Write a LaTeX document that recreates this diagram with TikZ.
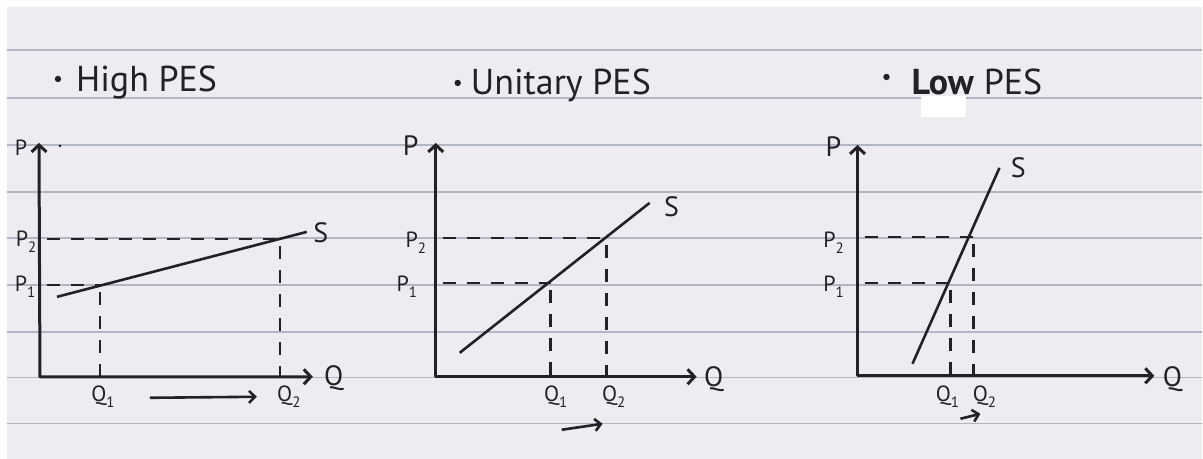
\documentclass[tikz,border=0pt]{standalone}
\usepackage{fontspec}
\setmainfont{PT Sans}
\usetikzlibrary{arrows.meta}
\definecolor{PaperGrey}{RGB}{236,236,241}
\definecolor{RuleGrey}{RGB}{178,181,195}
\definecolor{InkGrey}{RGB}{34,34,38}
\tikzset{
  axes/.style={InkGrey,line width=3pt,line join=round,
    {Straight Barb[length=7pt,width=15pt]}-{Straight Barb[length=7pt,width=15pt]}},
  supply/.style={InkGrey,line width=2.6pt},
  guide/.style={InkGrey,line width=2.6pt,dash pattern=on 13pt off 11pt,dash phase=17pt},
  shiftarrow/.style={InkGrey,line width=2.6pt,-{Straight Barb[length=6pt,width=12pt]}},
  title/.style={anchor=base west,inner sep=0pt,font=\fontsize{36}{40}\selectfont,text=InkGrey},
  axislabel/.style={inner sep=0pt,font=\fontsize{28}{30}\selectfont,text=InkGrey},
  valuelabel/.style={inner sep=0pt,font=\fontsize{22}{24}\selectfont,text=InkGrey},
  ruling/.style={RuleGrey,line width=1.4pt}
}
\newcommand\sublbl[2]{#1\raisebox{-0.3em}{\fontsize{15}{16}\selectfont #2}}

\begin{document}
\begin{tikzpicture}[x=1pt,y=-1pt]
  % paper
  \fill[white] (0,0) rectangle (1203,459);
  \fill[PaperGrey] (7,7) rectangle (1203,459);
  \foreach \y in {50,98,145,192,238,285,332,378,424}
    \draw[ruling] (7,\y) -- (1203,\y);
  \fill[white] (922,96) rectangle (967,117);

  % titles
  \fill[InkGrey] (58,79) circle (3.2pt);
  \node[title] (t1) at (76,92) {High PES};
  \fill[InkGrey] (458,83) circle (3.2pt);
  \node[title] (t2) at (471,95) {Unitary PES};
  \fill[InkGrey] (887,77) circle (3.2pt);
  \node[title] (t3) at (912,95) {\textbf{Low} PES};

  % high PES
  \coordinate (o1) at (40,377);
  \coordinate (e11) at (100,285);
  \coordinate (e12) at (280,239);
  \draw[axes] (39,143) -- (o1) -- (313,377);
  \fill[InkGrey] (60,146) circle (1.5pt);
  \draw[supply] (57,297) -- (307,232);
  \draw[guide] (o1 |- e11) -- (e11);
  \draw[guide] (e11) -- (e11 |- o1);
  \draw[guide] (o1 |- e12) -- (e12);
  \draw[guide] (e12) -- (e12 |- o1);
  \node[valuelabel] (p1) at (21,148) {P};
  \node[axislabel] (q1) at (334,378) {Q};
  \node[axislabel] (s1) at (321,233) {S};
  \node[valuelabel] (p11) at (25,287) {\sublbl{P}{1}};
  \node[valuelabel] (p12) at (26,242) {\sublbl{P}{2}};
  \node[valuelabel] (q11) at (103,397) {\sublbl{Q}{1}};
  \node[valuelabel] (q12) at (289,397) {\sublbl{Q}{2}};
  \coordinate (a1s) at (150,398);
  \coordinate (a1e) at (257,397);
  \draw[shiftarrow] (a1s) -- (a1e);

  % unitary PES
  \coordinate (o2) at (436,377);
  \coordinate (e21) at (551,283);
  \coordinate (e22) at (607,238);
  \draw[axes] (436,143) -- (o2) -- (697,377);
  \draw[supply] (460,353) -- (650,203);
  \draw[guide] (o2 |- e21) -- (e21);
  \draw[guide] (e21) -- (e21 |- o2);
  \draw[guide] (o2 |- e22) -- (e22);
  \draw[guide] (e22) -- (e22 |- o2);
  \node[axislabel] (p2) at (411,146) {P};
  \node[axislabel] (q2) at (714,379) {Q};
  \node[axislabel] (s2) at (672,207) {S};
  \node[valuelabel] (p21) at (407,287) {\sublbl{P}{1}};
  \node[valuelabel] (p22) at (416,243) {\sublbl{P}{2}};
  \node[valuelabel] (q21) at (556,397) {\sublbl{Q}{1}};
  \node[valuelabel] (q22) at (614,397) {\sublbl{Q}{2}};
  \coordinate (a2s) at (562,430);
  \coordinate (a2e) at (603,424);
  \draw[shiftarrow] (a2s) -- (a2e);

  % low PES
  \coordinate (o3) at (858,376);
  \coordinate (e31) at (951,283);
  \coordinate (e32) at (974,237);
  \draw[axes] (858,145) -- (o3) -- (1155,376);
  \draw[supply] (913,364) -- (1000,168);
  \draw[guide] (o3 |- e31) -- (e31);
  \draw[guide] (e31) -- (e31 |- o3);
  \draw[guide] (o3 |- e32) -- (e32);
  \draw[guide] (e32) -- (e32 |- o3);
  \node[axislabel] (p3) at (834,147) {P};
  \node[axislabel] (q3) at (1173,379) {Q};
  \node[axislabel] (s3) at (1019,168) {S};
  \node[valuelabel] (p31) at (834,287) {\sublbl{P}{1}};
  \node[valuelabel] (p32) at (834,243) {\sublbl{P}{2}};
  \node[valuelabel] (q31) at (948,397) {\sublbl{Q}{1}};
  \node[valuelabel] (q32) at (985,397) {\sublbl{Q}{2}};
  \coordinate (a3s) at (961,419);
  \coordinate (a3e) at (981,414);
  \draw[shiftarrow] (a3s) -- (a3e);
\end{tikzpicture}
\end{document}
